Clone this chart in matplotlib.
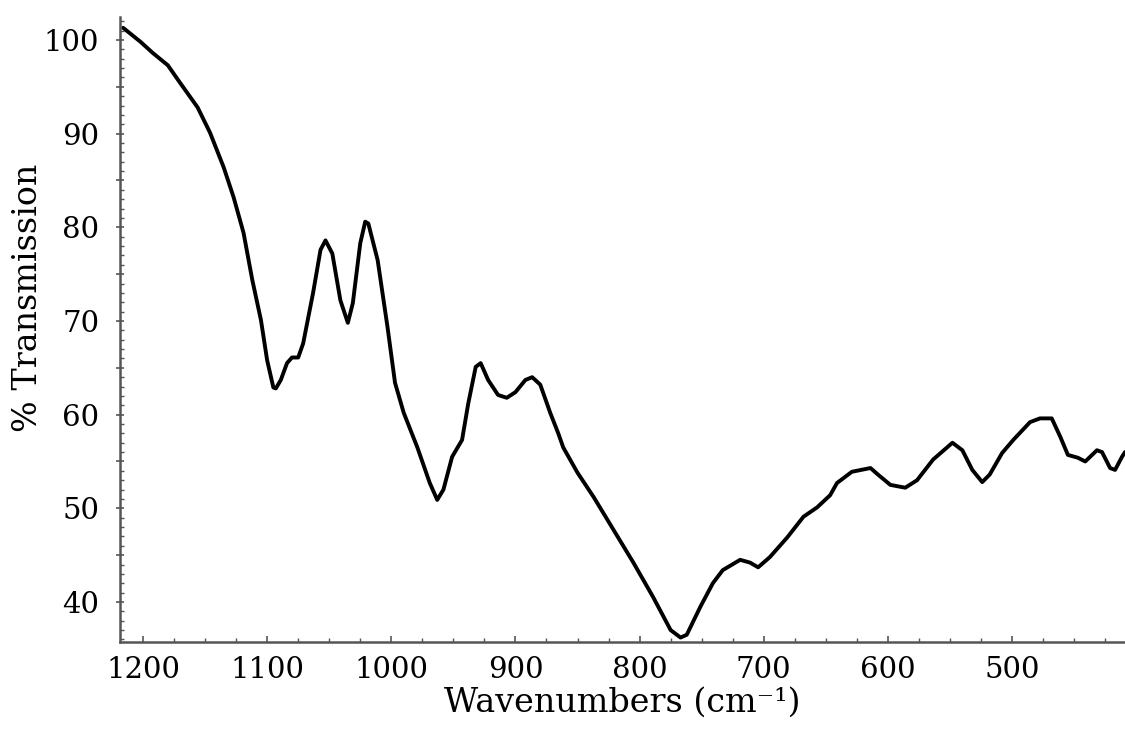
import matplotlib
matplotlib.use("Agg")
import matplotlib.pyplot as plt
from matplotlib.ticker import MultipleLocator, FuncFormatter

# IR spectrum (wavenumber in cm-1, % transmission)
wavenumber = [1216, 1202, 1192, 1180, 1170, 1156, 1146, 1135, 1127, 1119,
              1112, 1105, 1100, 1095, 1093, 1089, 1084, 1080, 1075, 1071,
              1063, 1057, 1053, 1047.5, 1041, 1035, 1031, 1025, 1021, 1018.5,
              1011, 1003, 997, 990, 979, 969, 963, 958, 951, 943,
              938, 932, 928, 922, 914, 907, 900, 892, 886.5, 880,
              872, 865.5, 861.5, 850, 837, 821, 805, 789, 775, 767,
              762, 751, 741, 733, 719, 711, 704.5, 695, 681, 668,
              657, 646.5, 641, 629, 614, 608, 598, 586, 576.5, 563.6,
              548, 540, 532, 524, 518, 508, 499, 485.5, 477.5, 468,
              461, 455, 447, 441, 431.6, 427.5, 421, 417, 411.4, 409]
transmission = [101.3, 99.8, 98.6, 97.3, 95.4, 92.8, 90.1, 86.4, 83.2, 79.4,
                74.4, 70.1, 65.8, 62.9, 62.8, 63.7, 65.5, 66.1, 66.1, 67.6,
                73.0, 77.6, 78.6, 77.2, 72.2, 69.8, 71.9, 78.3, 80.6, 80.4,
                76.5, 69.3, 63.4, 60.2, 56.5, 52.7, 50.9, 52.0, 55.5, 57.3,
                61.2, 65.1, 65.5, 63.7, 62.1, 61.8, 62.4, 63.7, 64.0, 63.2,
                60.2, 58.0, 56.5, 53.8, 51.2, 47.7, 44.2, 40.5, 37.0, 36.2,
                36.5, 39.5, 42.0, 43.4, 44.5, 44.2, 43.7, 44.8, 46.9, 49.1,
                50.1, 51.4, 52.7, 53.9, 54.3, 53.6, 52.5, 52.2, 53.0, 55.2,
                57.0, 56.2, 54.1, 52.8, 53.6, 55.9, 57.3, 59.2, 59.6, 59.6,
                57.6, 55.7, 55.4, 55.0, 56.2, 56.0, 54.3, 54.1, 55.5, 56.0]

plt.rcParams["font.family"] = ["DejaVu Serif"]

fig = plt.figure(figsize=(11.25, 7.31), dpi=100)
ax = fig.add_axes([0.1067, 0.1218, 0.8933, 0.8549])

ax.plot(wavenumber, transmission, color="black", lw=2.8,
        solid_joinstyle="round", solid_capstyle="round", clip_on=False)

ax.set_xlim(1218.5, 409)
ax.set_ylim(35.73, 102.45)

for side in ("top", "right"):
    ax.spines[side].set_visible(False)
for side in ("left", "bottom"):
    ax.spines[side].set_color("#555555")
    ax.spines[side].set_linewidth(1.8)

ax.xaxis.set_major_locator(MultipleLocator(100))
ax.xaxis.set_minor_locator(MultipleLocator(25))
ax.yaxis.set_major_locator(MultipleLocator(5))
ax.yaxis.set_minor_locator(MultipleLocator(1))
ax.yaxis.set_major_formatter(FuncFormatter(
    lambda v, _: f"{int(round(v))}" if round(v) % 10 == 0 else ""))

ax.tick_params(axis="x", which="major", direction="in", length=4, width=1.2,
               color="#555555", labelsize=21, pad=10)
ax.tick_params(axis="x", which="minor", direction="in", length=3, width=1,
               color="#555555")
ax.tick_params(axis="y", which="major", direction="inout", length=6, width=1.2,
               color="#555555", labelsize=21, pad=12)
ax.tick_params(axis="y", which="minor", direction="in", length=3, width=1,
               color="#555555")

ax.set_xlabel("Wavenumbers (cm\u207b\u00b9)", fontsize=24, labelpad=2)
ax.set_ylabel("% Transmission", fontsize=24)
ax.yaxis.set_label_coords(-0.076, 0.55)

fig.savefig("out.png", dpi=100)
